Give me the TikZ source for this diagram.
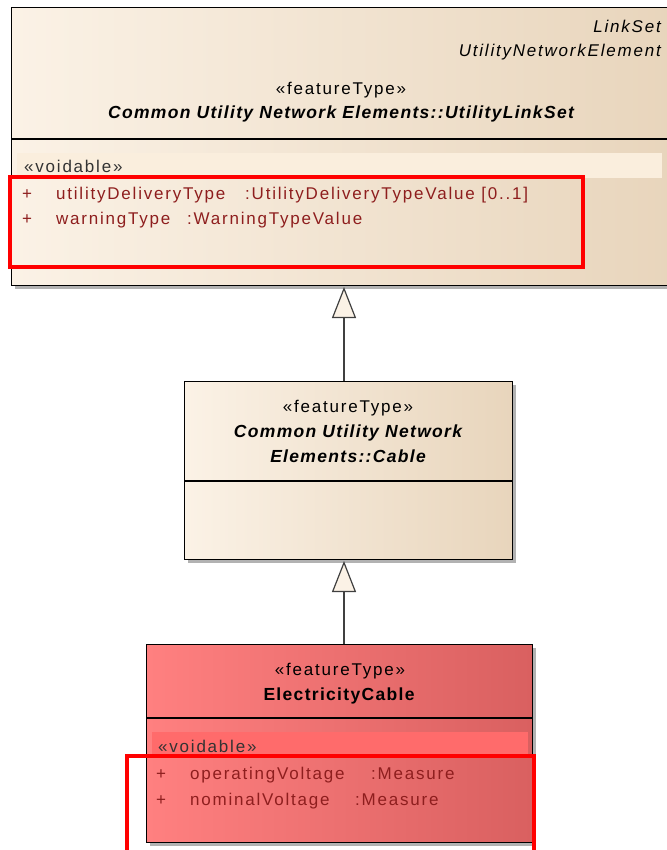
\documentclass[tikz,border=0pt]{standalone}
\usepackage{fontspec}
\setmainfont{Liberation Sans}
\newfontfamily\eareg[LetterSpace=10.5]{Liberation Sans}
\newfontfamily\eabold[LetterSpace=7.5]{Liberation Sans}
\usetikzlibrary{arrows.meta}
\definecolor{creamL}{HTML}{FBF2E6}
\definecolor{creamR}{HTML}{E8D5BC}
\definecolor{redL}{HTML}{FF8080}
\definecolor{redR}{HTML}{D96060}
\definecolor{bandC}{HTML}{FAEEDD}
\definecolor{bandR}{HTML}{FF6B6B}
\definecolor{attr}{HTML}{8E1E1E}
\definecolor{hl}{HTML}{FF0000}
\tikzset{
  classbox/.style={draw=black, line width=1.2pt, inner sep=0pt, anchor=north west},
  cream/.style={left color=creamL, right color=creamR},
  redbox/.style={left color=redL, right color=redR},
  shadowbox/.style={fill=black!30, draw=none, inner sep=0pt, anchor=north west},
  stereo/.style={font=\eareg\fontsize{17}{17}\selectfont, anchor=base},
  title/.style={font=\eabold\fontsize{17.5}{17.5}\selectfont\bfseries\itshape, anchor=base},
  titleup/.style={font=\eabold\fontsize{17.5}{17.5}\selectfont\bfseries, anchor=base},
  attrtext/.style={font=\eareg\fontsize{17}{17}\selectfont, text=attr, anchor=base west, inner sep=0pt},
  voidtext/.style={font=\eareg\fontsize{17}{17}\selectfont, text=black!80, anchor=base west, inner sep=0pt},
  small/.style={font=\eareg\fontsize{17}{17}\selectfont\itshape, anchor=base east, inner sep=0pt},
  hlbox/.style={draw=hl, line width=4pt},
  gen/.style={draw=black!75, line width=1.2pt, -{Triangle[open, length=31pt, width=24pt, fill=creamL]}},
}
\begin{document}
\begin{tikzpicture}[x=1pt,y=-1pt]
\useasboundingbox (0,0) rectangle (666,850);
\fill[white] (0,0) rectangle (666,850);
% shadows
\node[shadowbox, minimum width=660pt, minimum height=278pt] (topsh) at (15,11) {};
\node[shadowbox, minimum width=328pt, minimum height=178pt] (midsh) at (188,385) {};
\node[shadowbox, minimum width=386pt, minimum height=198pt] (botsh) at (150,648) {};
% top box
\node[classbox, cream, minimum width=660pt, minimum height=278pt] (top) at (11,7) {};
\draw[line width=1.2pt] (11,139) -- (671,139);
\fill[bandC] (17,153) rectangle (662,178);
\node[small] (ls) at (661,33) {LinkSet};
\node[small] (une) at (661,57) {UtilityNetworkElement};
\node[stereo] (tst) at (341,95) {«featureType»};
\node[title] (ttl) at (341,119) {Common Utility Network Elements::UtilityLinkSet};
\node[voidtext] (tvoid) at (24,173) {«voidable»};
\node[attrtext] (tp1) at (22,200) {+};
\node[attrtext] (ta1) at (56,200) {utilityDeliveryType};
\node[attrtext] (tt1) at (245,200) {:UtilityDeliveryTypeValue [0..1]};
\node[attrtext] (tp2) at (22,225) {+};
\node[attrtext] (ta2) at (56,225) {warningType};
\node[attrtext] (tt2) at (187,225) {:WarningTypeValue};
\draw[hlbox] (10,177) rectangle (583,267);
% middle box
\node[classbox, cream, minimum width=328pt, minimum height=178pt] (mid) at (184,381) {};
\draw[line width=1.2pt] (184,481) -- (512,481);
\node[stereo] (mst) at (348,412) {«featureType»};
\node[title] (mt1) at (348,437) {Common Utility Network};
\node[title] (mt2) at (348,462) {Elements::Cable};
% bottom box
\node[classbox, redbox, minimum width=386pt, minimum height=198pt] (bot) at (146,644) {};
\draw[line width=1.2pt] (146,718) -- (532,718);
\fill[bandR] (152,732) rectangle (528,756);
\node[stereo] (bst) at (340,675) {«featureType»};
\node[titleup] (bt) at (339,700) {ElectricityCable};
\node[voidtext] (bvoid) at (158,752) {«voidable»};
\node[attrtext] (bp1) at (156,779) {+};
\node[attrtext] (ba1) at (190,779) {operatingVoltage};
\node[attrtext] (bt1) at (371,779) {:Measure};
\node[attrtext] (bp2) at (156,805) {+};
\node[attrtext] (ba2) at (190,805) {nominalVoltage};
\node[attrtext] (bt2) at (355,805) {:Measure};
\draw[hlbox] (127,756) rectangle (534,856);
% generalizations
\coordinate (a1s) at (344,381);
\coordinate (a1e) at (344,287);
\coordinate (a2s) at (344,644);
\coordinate (a2e) at (344,561);
\draw[gen] (a1s) -- (a1e);
\draw[gen] (a2s) -- (a2e);
\end{tikzpicture}
\end{document}
